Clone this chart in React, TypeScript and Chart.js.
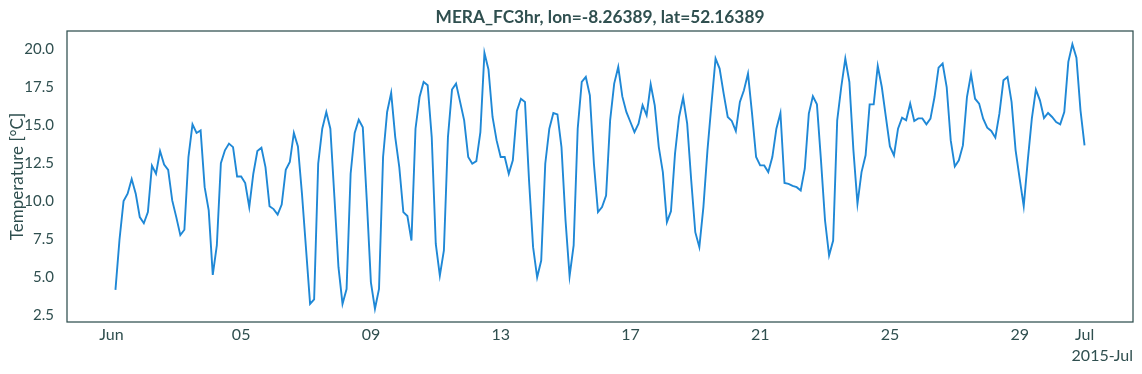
import React, { useEffect, useRef } from "react";
import { Chart, registerables } from "chart.js";

Chart.register(...registerables);

// Time axis: 3-hourly values starting Jun 1 2015 03:00 (hours after Jun 1 00:00)
const startHour = 3;
const stepHours = 3;

// Tick positions (days after Jun 1 00:00) and labels
const tickDays = [0, 4, 8, 12, 16, 20, 24, 28, 30];
const tickLabels = ["Jun", "05", "09", "13", "17", "21", "25", "29", "Jul"];
const yTicks = [2.5, 5.0, 7.5, 10.0, 12.5, 15.0, 17.5, 20.0];

const titleText = "MERA_FC3hr, lon=-8.26389, lat=52.16389";
const yTitle = "Temperature [°C]";
const xOffsetLabel = "2015-Jul";

// Temperature (°C), 3-hourly
const temperature = [
  4.19, 7.5, 10.02, 10.51, 11.47, 10.51, 8.97, 8.57, 9.3, 12.35,
  11.82, 13.31, 12.43, 12.08, 10.07, 8.97, 7.79, 8.14, 12.92, 15.07,
  14.5, 14.67, 10.94, 9.41, 5.18, 7.11, 12.52, 13.36, 13.8, 13.57,
  11.64, 11.64, 11.21, 9.63, 11.82, 13.31, 13.53, 12.26, 9.69, 9.5,
  9.14, 9.8, 12.08, 12.59, 14.5, 13.62, 10.5, 6.89, 3.27, 3.57,
  12.48, 14.78, 15.88, 14.78, 10.29, 5.68, 3.27, 4.25, 11.82, 14.5,
  15.37, 14.87, 10.0, 4.69, 2.95, 4.25, 12.92, 15.88, 17.13, 14.23,
  12.26, 9.3, 9.04, 7.43, 14.78, 16.86, 17.85, 17.63, 14.23, 7.21,
  5.13, 6.78, 14.23, 17.35, 17.74, 16.54, 15.33, 12.92, 12.48, 12.65,
  14.56, 19.76, 18.66, 15.55, 14.01, 12.92, 12.92, 11.82, 12.7, 15.94,
  16.75, 16.54, 11.38, 7.0, 5.02, 6.12, 12.48, 14.78, 15.81, 15.72,
  13.57, 8.75, 5.09, 7.11, 14.78, 17.85, 18.18, 16.97, 12.48, 9.3,
  9.63, 10.39, 15.33, 17.74, 18.84, 16.9, 15.88, 15.22, 14.56, 15.11,
  16.32, 15.66, 17.7, 16.32, 13.57, 11.93, 8.64, 9.36, 13.14, 15.55,
  16.82, 15.11, 11.38, 7.98, 7.0, 9.63, 13.36, 16.43, 19.39, 18.73,
  17.08, 15.55, 15.29, 14.63, 16.54, 17.3, 18.4, 15.77, 12.92, 12.37,
  12.37, 11.93, 12.92, 14.78, 15.81, 11.21, 11.16, 11.03, 10.94, 10.72,
  12.15, 15.77, 16.91, 16.38, 12.7, 8.75, 6.45, 7.43, 15.33, 17.52,
  19.39, 17.85, 13.36, 9.85, 11.93, 13.03, 16.38, 16.38, 18.9, 17.52,
  15.55, 13.62, 13.03, 14.78, 15.5, 15.33, 16.43, 15.29, 15.46, 15.46,
  15.07, 15.44, 16.86, 18.79, 19.06, 17.52, 14.01, 12.3, 12.7, 13.68,
  16.86, 18.36, 16.75, 16.43, 15.44, 14.85, 14.63, 14.19, 15.77, 17.96,
  18.18, 16.54, 13.36, 11.5, 9.69, 12.7, 15.44, 17.35, 16.64, 15.48,
  15.81, 15.55, 15.22, 15.07, 15.88, 19.17, 20.33, 19.45, 15.99, 13.68,
];

const TEXT = "#2F4F4F";
const LINE = "#1f88d6";
const FONT = "Lato";

const framePlugin = {
  id: "frame",
  afterDraw(chart: any) {
    const { ctx, chartArea } = chart;
    ctx.save();
    ctx.strokeStyle = TEXT;
    ctx.lineWidth = 1.25;
    ctx.strokeRect(chartArea.left, chartArea.top, chartArea.right - chartArea.left, chartArea.bottom - chartArea.top);
    // title centred over the plot area
    ctx.fillStyle = TEXT;
    ctx.font = `bold 17.3px ${FONT}`;
    ctx.textAlign = "center";
    ctx.textBaseline = "middle";
    ctx.fillText(titleText, (chartArea.left + chartArea.right) / 2, 17);
    ctx.restore();
  },
};

export default function App() {
  const ref = useRef<HTMLCanvasElement | null>(null);

  useEffect(() => {
    if (!ref.current) return;
    const points = temperature.map((v, i) => ({ x: (startHour + i * stepHours) / 24, y: v }));
    const xs = points.map((p) => p.x);
    const ys = points.map((p) => p.y);
    const xMin = Math.min(...xs), xMax = Math.max(...xs);
    const yMin = Math.min(...ys), yMax = Math.max(...ys);
    const xm = (xMax - xMin) * 0.05, ym = (yMax - yMin) * 0.05;

    const chart = new Chart(ref.current, {
      type: "line",
      data: {
        datasets: [
          {
            data: points,
            borderColor: LINE,
            borderWidth: 1.9,
            pointRadius: 0,
            tension: 0,
            fill: false,
          },
        ],
      },
      options: {
        responsive: false,
        animation: false,
        events: [],
        layout: { padding: { left: 0, right: 9, top: 31, bottom: 0 } },
        plugins: {
          legend: { display: false },
          tooltip: { enabled: false },
          title: { display: false },
        },
        scales: {
          x: {
            type: "linear",
            min: xMin - xm,
            max: xMax + xm,
            grid: { display: false },
            border: { display: false },
            afterBuildTicks: (scale: any) => {
              scale.ticks = tickDays.map((v) => ({ value: v }));
            },
            afterFit: (scale: any) => {
              scale.height = 52;
            },
            ticks: {
              autoSkip: false,
              maxRotation: 0,
              padding: -5,
              color: TEXT,
              font: { family: FONT, size: 16 },
              callback: (_v: any, i: number) => tickLabels[i],
            },
            title: {
              display: true,
              text: xOffsetLabel,
              align: "end",
              color: TEXT,
              font: { family: FONT, size: 16 },
              padding: { top: 0, bottom: 9 },
            },
          },
          y: {
            type: "linear",
            min: yMin - ym,
            max: yMax + ym,
            grid: { display: false },
            border: { display: false },
            afterBuildTicks: (scale: any) => {
              scale.ticks = yTicks.map((v) => ({ value: v }));
            },
            afterFit: (scale: any) => {
              scale.width = 67;
            },
            ticks: {
              padding: 5,
              color: TEXT,
              font: { family: FONT, size: 15 },
              callback: (v: any) => Number(v).toFixed(1),
            },
            title: {
              display: true,
              text: yTitle,
              color: TEXT,
              font: { family: FONT, size: 17 },
              padding: { top: 7, bottom: 0 },
            },
          },
        },
      },
      plugins: [framePlugin],
    });
    return () => chart.destroy();
  }, []);

  return (
    <div style={{ position: "fixed", left: 0, top: 0, width: 1142, height: 374, background: "#fff" }}>
      <canvas ref={ref} width={1142} height={374} style={{ display: "block" }} />
    </div>
  );
}
